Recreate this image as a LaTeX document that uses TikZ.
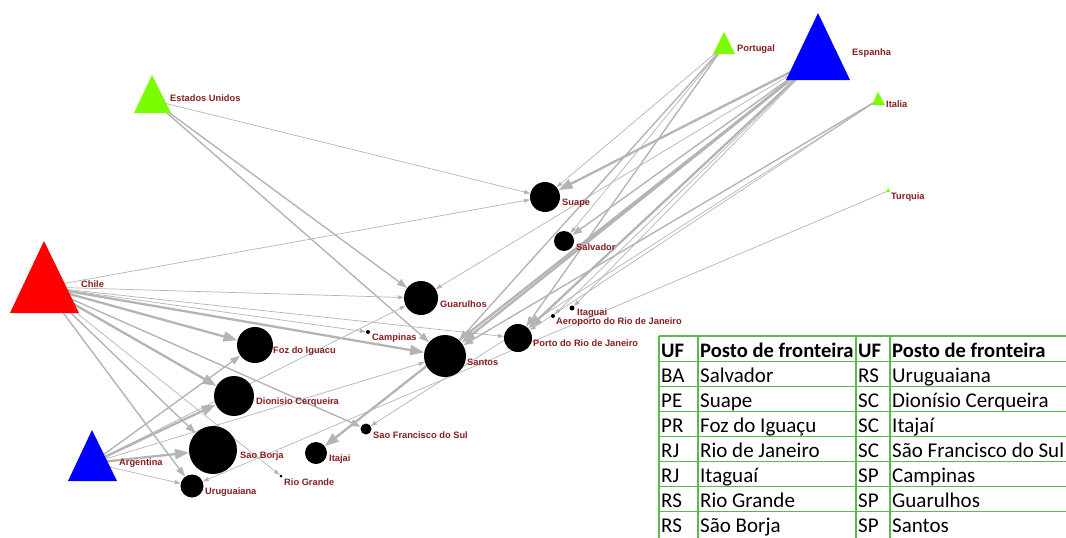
\documentclass[tikz,border=0pt]{standalone}
\usepackage{fontspec}
\setmainfont{Liberation Sans}
\newfontfamily\tabfont{Carlito}
\usetikzlibrary{arrows.meta}
\pgfdeclarelayer{bg}
\pgfsetlayers{bg,main}
\definecolor{edgegray}{RGB}{180,180,180}
\definecolor{lblred}{RGB}{135,30,30}
\definecolor{lgreen}{RGB}{124,252,0}
\definecolor{tgreen}{RGB}{96,184,72}
\begin{document}
\begin{tikzpicture}[x=1pt,y=-1pt,
  port/.style={circle,fill=black,inner sep=0pt,minimum size=#1},
  lbl/.style={anchor=west,text=lblred,font=\fontsize{9.3}{11}\selectfont\bfseries,inner sep=0pt},
  thinE/.style={draw=edgegray,line width=0.7pt,-{Triangle[length=6pt,width=4pt]}},
  midE/.style={draw=edgegray,line width=1.4pt,-{Triangle[length=10pt,width=7pt]}},
  thickE/.style={draw=edgegray,line width=2.3pt,-{Triangle[length=14pt,width=10pt]}},
  tabline/.style={draw=tgreen,line width=1.3pt},
  cell/.style={anchor=base west,inner sep=0pt,font=\tabfont\fontsize{21}{25}\selectfont},
  hcell/.style={cell,font=\tabfont\bfseries\fontsize{20.6}{25}\selectfont}]
\useasboundingbox (0,0) rectangle (1066,538);

% countries (triangle centres)
\coordinate (eua) at (152,100);
\coordinate (por) at (724,46);
\coordinate (esp) at (818,58);
\coordinate (ita) at (878,100);
\coordinate (tur) at (888,191);
\coordinate (chi) at (44,287);
\coordinate (arg) at (92,463);

% border posts
\node[port=30pt] (suape) at (545,197) {};
\node[port=20pt] (salvador) at (564,241) {};
\node[port=34pt] (guarulhos) at (421,298) {};
\node[port=4pt] (campinas) at (368,332) {};
\node[port=42pt] (santos) at (445,356) {};
\node[port=28pt] (portorj) at (518,338) {};
\node[port=5pt] (itaguai) at (572,308) {};
\node[port=4pt] (aerorj) at (553,316) {};
\node[port=36pt] (foz) at (255,345) {};
\node[port=40pt] (dionisio) at (234,396) {};
\node[port=48pt] (saoborja) at (213,450) {};
\node[port=23pt] (uruguaiana) at (192,486) {};
\node[port=3pt] (riogrande) at (281,476) {};
\node[port=22pt] (itajai) at (316,453) {};
\node[port=11pt] (sfs) at (366,429) {};

% triangles
\fill[lgreen] (eua) ++(0,-25) -- ++(19,38) -- ++(-37,0) -- cycle;
\fill[lgreen] (por) ++(0,-14) -- ++(11,22) -- ++(-22,0) -- cycle;
\fill[blue] (esp) ++(0,-45) -- ++(32,67) -- ++(-64,0) -- cycle;
\fill[lgreen] (ita) ++(0,-8) -- ++(7,13) -- ++(-13,0) -- cycle;
\fill[lgreen] (tur) ++(0,-3) -- ++(2,4) -- ++(-4,0) -- cycle;
\fill[red] (chi) ++(0,-46) -- ++(35,72) -- ++(-69,0) -- cycle;
\fill[blue] (arg) ++(0,-33) -- ++(25,51) -- ++(-49,0) -- cycle;

% labels
\node[lbl] (l-eua) at (170,98) {Estados Unidos};
\node[lbl] (l-por) at (737,49) {Portugal};
\node[lbl] (l-esp) at (852,53) {Espanha};
\node[lbl] (l-ita) at (886,104) {Italia};
\node[lbl] (l-tur) at (891,197) {Turquia};
\node[lbl] (l-chi) at (81,284) {Chile};
\node[lbl] (l-arg) at (119,463) {Argentina};
\node[lbl] (l-suape) at (562,203) {Suape};
\node[lbl] (l-salvador) at (576,247) {Salvador};
\node[lbl] (l-guarulhos) at (440,304) {Guarulhos};
\node[lbl] (l-campinas) at (372,338) {Campinas};
\node[lbl] (l-santos) at (467,362) {Santos};
\node[lbl] (l-portorj) at (533,343) {Porto do Rio de Janeiro};
\node[lbl] (l-itaguai) at (577,313) {Itaguai};
\node[lbl] (l-aerorj) at (556,322) {Aeroporto do Rio de Janeiro};
\node[lbl] (l-foz) at (273,351) {Foz do Iguacu};
\node[lbl] (l-dionisio) at (256,402) {Dionisio Cerqueira};
\node[lbl] (l-saoborja) at (240,456) {Sao Borja};
\node[lbl] (l-uruguaiana) at (205,492) {Uruguaiana};
\node[lbl] (l-riogrande) at (284,482) {Rio Grande};
\node[lbl] (l-itajai) at (329,459) {Itajai};
\node[lbl] (l-sfs) at (373,435) {Sao Francisco do Sul};

% connectors
\begin{pgfonlayer}{bg}
\draw[thinE] (eua) -- (suape);
\draw[midE] (eua) -- (guarulhos);
\draw[midE] (eua) -- (santos);
\draw[thinE] (chi) -- (suape);
\draw[thinE] (chi) -- (guarulhos);
\draw[thinE] (chi) -- (campinas);
\draw[thinE] (chi) -- (portorj);
\draw[thickE] (chi) -- (santos);
\draw[thickE] (chi) -- (foz);
\draw[thickE] (chi) -- (dionisio);
\draw[midE] (chi) -- (saoborja);
\draw[midE] (chi) -- (uruguaiana);
\draw[thinE] (chi) -- (riogrande);
\draw[midE] (chi) -- (sfs);
\draw[midE] (arg) -- (foz);
\draw[thickE] (arg) -- (dionisio);
\draw[thickE] (arg) -- (saoborja);
\draw[thinE] (arg) -- (uruguaiana);
\draw[thinE] (arg) -- (santos);
\draw[thinE] (arg) -- (guarulhos);
\draw[thickE] (esp) -- (suape);
\draw[midE] (esp) -- (salvador);
\draw[thickE] (esp) -- (santos);
\draw[thickE] (esp) -- (portorj);
\draw[thinE] (esp) -- (itaguai);
\draw[thinE] (esp) -- (aerorj);
\draw[thickE] (esp) -- (itajai);
\draw[thinE] (esp) -- (guarulhos);
\draw[thinE] (por) -- (suape);
\draw[thinE] (por) -- (salvador);
\draw[midE] (por) -- (santos);
\draw[midE] (por) -- (portorj);
\draw[midE] (ita) -- (santos);
\draw[thinE] (ita) -- (portorj);
\draw[thinE] (ita) -- (sfs);
\draw[thinE] (tur) -- (uruguaiana);
\end{pgfonlayer}

% table
\foreach \yy in {336,361.5,386.5,411.5,436.5,461.5,486.5,511.5}
  \draw[tabline] (659,\yy) -- (1066,\yy);
\foreach \xx in {659,698,856,890}
  \draw[tabline] (\xx,336) -- (\xx,538);
\node[hcell] (h1) at (661,357) {UF};
\node[hcell] (h2) at (700,357) {Posto de fronteira};
\node[hcell] (h3) at (858,357) {UF};
\node[hcell] (h4) at (892,357) {Posto de fronteira};
\foreach \i/\a/\b/\c/\d in {1/BA/Salvador/RS/Uruguaiana,
  2/PE/Suape/SC/Dionísio Cerqueira,
  3/PR/Foz do Iguaçu/SC/Itajaí,
  4/RJ/Rio de Janeiro/SC/São Francisco do Sul,
  5/RJ/Itaguaí/SP/Campinas,
  6/RS/Rio Grande/SP/Guarulhos,
  7/RS/São Borja/SP/Santos}{
  \node[cell] (r\i a) at (661,357+25*\i) {\a};
  \node[cell] (r\i b) at (700,357+25*\i) {\b};
  \node[cell] (r\i c) at (858,357+25*\i) {\c};
  \node[cell] (r\i d) at (892,357+25*\i) {\d};
}
\end{tikzpicture}
\end{document}
